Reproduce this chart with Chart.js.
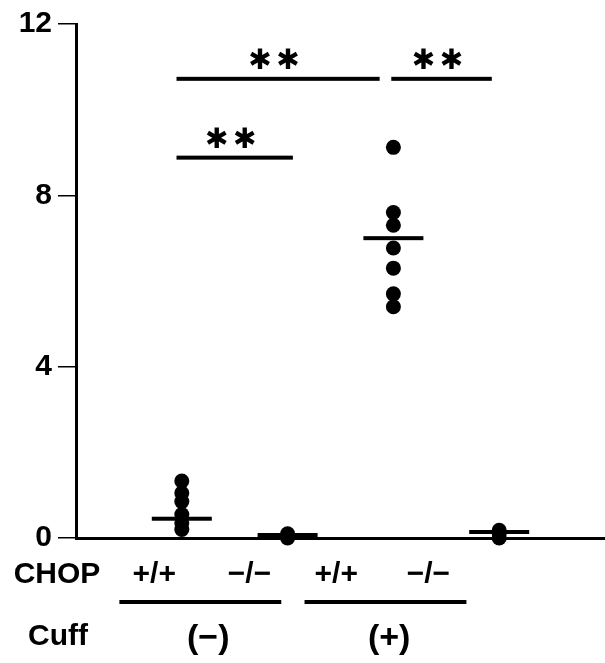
<!DOCTYPE html>
<html>
<head>
<meta charset="utf-8">
<script src="https://cdn.jsdelivr.net/npm/chart.js@4.4.1/dist/chart.umd.min.js"></script>
<style>
    html, body { margin: 0; padding: 0; background: #fff; }
    canvas { display: block; }
</style>
</head>
<body>
<canvas id="chart" width="605" height="663"></canvas>
<script>
// groups: CHOP +/+ Cuff(-), CHOP -/- Cuff(-), CHOP +/+ Cuff(+), CHOP -/- Cuff(+)
const groupPositions = [1, 2, 3, 4];
const group1Values = [1.33, 1.05, 0.85, 0.55, 0.35, 0.2];
const group2Values = [0.0, 0.05, 0.1];
const group3Values = [9.12, 7.6, 7.3, 6.77, 6.3, 5.7, 5.4];
const group4Values = [0.0, 0.1, 0.18];
const meanValues = [0.45, 0.07, 7.0, 0.14];

const chopLabels = ["+/+", "\u2212/\u2212", "+/+", "\u2212/\u2212"];
const chopLabelPos = [0.74, 1.64, 2.46, 3.33];
const cuffLabels = ["(\u2212)", "(+)"];
const cuffLabelPos = [1.25, 2.96];
const cuffLineStart = [0.41, 2.16];
const cuffLineEnd = [1.94, 3.69];

const sigStart = [0.95, 2.98, 0.95];
const sigEnd = [2.87, 3.93, 2.05];
const sigLevel = [10.72, 10.72, 8.88];
const sigText = ["**", "**", "**"];

const FONT = "'Liberation Sans', Arial, sans-serif";
const allGroups = [group1Values, group2Values, group3Values, group4Values];

function groupData(values, pos) {
    return values.map(v => ({ x: pos, y: v }));
}

const overlayPlugin = {
    id: "overlay",
    afterDatasetsDraw(chart) {
        const ctx = chart.ctx;
        const xs = chart.scales.x;
        const ys = chart.scales.y;
        ctx.save();
        ctx.fillStyle = "#000";

        // mean bars
        meanValues.forEach((m, i) => {
            const cx = xs.getPixelForValue(groupPositions[i]);
            const cy = ys.getPixelForValue(m);
            ctx.fillRect(cx - 30, cy - 2, 60, 4);
        });

        // significance bars
        sigLevel.forEach((lvl, i) => {
            const x1 = xs.getPixelForValue(sigStart[i]);
            const x2 = xs.getPixelForValue(sigEnd[i]);
            const y = ys.getPixelForValue(lvl);
            ctx.fillRect(x1, y - 2, x2 - x1, 4);
            const mid = (x1 + x2) / 2 - 4;
            ctx.font = "28px 'DejaVu Sans'";
            ctx.textAlign = "center";
            ctx.textBaseline = "middle";
            const stars = sigText[i].split("");
            stars.forEach((s, k) => {
                const off = (k - (stars.length - 1) / 2) * 28;
                ctx.fillText("\u2731", mid + off, y - 17);
            });
        });
        ctx.restore();
    },
    afterDraw(chart) {
        const ctx = chart.ctx;
        const xs = chart.scales.x;
        ctx.save();
        ctx.fillStyle = "#000";
        ctx.font = "bold 30px " + FONT;
        ctx.textAlign = "center";
        ctx.textBaseline = "middle";

        ctx.fillText("CHOP", 57, 575);
        chopLabels.forEach((t, i) => {
            ctx.fillText(t, xs.getPixelForValue(chopLabelPos[i]), 575);
        });

        cuffLineStart.forEach((s, i) => {
            const x1 = xs.getPixelForValue(s);
            const x2 = xs.getPixelForValue(cuffLineEnd[i]);
            ctx.fillRect(x1, 600, x2 - x1, 4);
        });

        ctx.fillText("Cuff", 58, 637);
        ctx.font = "bold 34px " + FONT;
        cuffLabels.forEach((t, i) => {
            ctx.fillText(t, xs.getPixelForValue(cuffLabelPos[i]), 639);
        });
        ctx.restore();
    }
};

new Chart(document.getElementById("chart"), {
    type: "scatter",
    data: {
        datasets: allGroups.map((vals, i) => ({
            data: groupData(vals, groupPositions[i]),
            backgroundColor: "#000",
            borderWidth: 0,
            pointRadius: 7.5,
            pointHoverRadius: 7.5,
            clip: false
        }))
    },
    options: {
        responsive: false,
        animation: false,
        events: [],
        layout: { autoPadding: false, padding: { top: 21, right: 0, bottom: 125, left: 0 } },
        plugins: { legend: { display: false }, tooltip: { enabled: false } },
        scales: {
            x: {
                type: "linear",
                min: 0,
                max: 5,
                grid: { display: false, drawTicks: false },
                ticks: { display: false },
                border: { display: true, color: "#000", width: 3 },
                afterFit(scale) {
                    scale.paddingLeft = 0;
                    scale.paddingRight = 0;
                }
            },
            y: {
                min: 0,
                max: 12,
                ticks: {
                    stepSize: 4,
                    color: "#000",
                    padding: 6,
                    font: { family: FONT, size: 30, weight: "bold" }
                },
                grid: {
                    drawOnChartArea: false,
                    drawTicks: true,
                    tickLength: 18,
                    color: "#000",
                    lineWidth: 1.5
                },
                border: { display: true, color: "#000", width: 3 },
                afterFit(scale) { scale.width = 76; }
            }
        }
    },
    plugins: [overlayPlugin]
});
</script>
</body>
</html>
